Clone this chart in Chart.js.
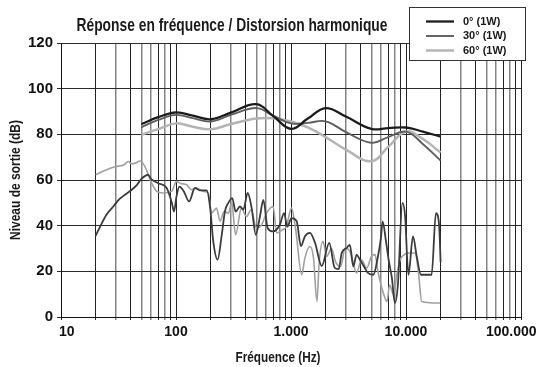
<!DOCTYPE html>
<html>
<head>
<meta charset="utf-8">
<script src="https://cdn.jsdelivr.net/npm/chart.js@4.4.1/dist/chart.umd.min.js"></script>
<style>
  html, body { margin: 0; padding: 0; background: #fff; }
  canvas { display: block; }
</style>
</head>
<body>
<canvas id="chart" width="546" height="367"></canvas>
<script>
// Frequency response at 1 W for three listening angles (dB)
const respFreq = [50, 70, 100, 140, 200, 300, 500, 700, 1000, 1400, 2000, 3000, 5000, 7000, 10000, 14000, 20000];
const resp0    = [84.5, 87.5, 89.6, 88.2, 86.6, 89.5, 93.2, 88.0, 82.4, 86.9, 91.5, 87.8, 82.4, 82.7, 83.0, 81.2, 79.0];
const resp30   = [83.1, 86.3, 88.5, 87.1, 85.6, 88.5, 91.5, 88.2, 84.8, 85.0, 85.7, 81.0, 76.3, 78.8, 81.2, 75.8, 68.5];
const resp60   = [79.8, 82.3, 84.8, 83.3, 82.2, 84.5, 86.9, 87.0, 85.6, 83.0, 78.8, 73.3, 68.2, 74.5, 81.2, 78.0, 72.0];

// Harmonic distortion traces (dB)
const distFreqA = [20, 22.6, 25, 28.5, 32, 36, 41, 46, 50, 54, 57, 61, 70, 83, 92, 96, 101, 107, 117, 130,
                   146, 161, 185, 198, 211, 230, 250, 267, 285, 308, 330, 360, 385, 420, 455, 494, 537, 575, 627, 700,
                   800, 870, 930, 1010, 1120, 1220, 1320, 1460, 1620, 1850, 2150, 2400, 2600, 2760, 3040, 3250, 3480, 3720, 3970, 4330,
                   4660, 5200, 5700, 6050, 6270, 6700, 7100, 7540, 8000, 8500, 9300, 9800, 10500, 11500, 12400, 13500, 16700, 18200, 19400, 20000];
const distA     = [35.5, 41, 45, 48.4, 51.5, 53.5, 55.6, 58, 60.5, 61.8, 62.3, 60.4, 58.6, 56.5, 50, 46.2, 52.8, 57.1, 55, 50.6,
                   56.5, 55.5, 55.5, 48, 33, 25.1, 36, 46.5, 49.9, 52.1, 46.2, 48.4, 47, 54.3, 47.7, 36, 44, 51.3, 38.9, 37.5,
                   40.4, 45.5, 39.6, 43.3, 42, 31, 35.3, 36.8, 32.4, 22.3, 32.5, 21.5, 21, 28, 30.2, 31.6, 22.1, 27.3, 25.1, 22,
                   19.3, 18.5, 26.5, 34.6, 41.8, 33.1, 24.3, 17.1, 6.1, 14, 50, 44.8, 18.5, 35.3, 26.5, 18.5, 18.5, 45.5, 40.4, 24];

const distFreqB = [20, 25, 30, 35, 38.5, 41, 45, 48.6, 53.7, 61.4, 68, 77.5, 91.6, 101, 110, 124, 137, 151, 173, 191,
                   204, 225, 242, 262, 285, 305, 330, 370, 410, 450, 500, 550, 613, 700, 750, 830, 910, 1010, 1100, 1240,
                   1320, 1460, 1570, 1680, 1760, 1900, 2040, 2250, 2450, 2700, 2960, 3300, 3720, 4100, 4560, 5000, 5380, 5700, 6350, 6830,
                   7200, 7800, 8300, 8900, 9500, 10500, 12000, 12800, 13700, 19800];
const distB     = [62.3, 64.5, 65.9, 66.6, 68.1, 67.1, 67.5, 68.3, 65.9, 58.6, 55, 54.3, 55, 59.3, 58.5, 57.9, 55.7, 56.5, 55, 54.3,
                   45.5, 47.7, 42, 46.2, 45.5, 50, 36, 47.7, 44, 47, 38.9, 40, 45.5, 48.4, 36.8, 38, 39.6, 47.7, 38, 18.5,
                   25.8, 30.9, 25.8, 6.8, 24.3, 33.1, 26.5, 30, 24, 22.1, 30.2, 28, 19.3, 25, 21.4, 26.5, 27.3, 20, 10.5, 6.8,
                   14, 9.8, 18, 25.1, 27, 28, 28, 20, 6.8, 6.1];

// Axis ticks and texts
const decadeValues = [10, 100, 1000, 10000, 100000];
const decadeLabels = ['10', '100', '1.000', '10.000', '100.000'];
const yTicks = [0, 20, 40, 60, 80, 100, 120];
const seriesNames = ['0° (1W)', '30° (1W)', '60° (1W)'];
const chartTitle = 'Réponse en fréquence / Distorsion harmonique';
const xTitle = 'Fréquence (Hz)';
const yTitle = 'Niveau de sortie (dB)';

const pts = (xs, ys) => xs.map((x, i) => ({ x: x, y: ys[i] }));

// every 1..9 multiple of each decade, for the log grid
const gridValues = [];
for (let d = 0; d < decadeValues.length - 1; d++) {
  for (let m = 1; m < 10; m++) gridValues.push(decadeValues[d] * m);
}
gridValues.push(decadeValues[decadeValues.length - 1]);

const darkMultipliers = [1, 2, 4, 7, 9];
function isDark(v) {
  const p = Math.pow(10, Math.floor(Math.log10(v) + 1e-9));
  return darkMultipliers.includes(Math.round(v / p));
}

const FONT = '"Liberation Sans", Arial, Helvetica, sans-serif';
const NB = '\u00a0';

const decor = {
  id: 'decor',
  afterDraw(chart) {
    const ctx = chart.ctx;
    const area = chart.chartArea;
    ctx.save();
    ctx.fillStyle = '#1a1a1a';
    ctx.textAlign = 'center';
    ctx.textBaseline = 'alphabetic';
    ctx.font = 'bold 18px ' + FONT;
    ctx.fillText(chartTitle, 232, 31, 311);
    ctx.font = 'bold 14px ' + FONT;
    ctx.fillText(xTitle, 278, 362, 85);
    ctx.translate(16, (area.top + area.bottom) / 2);
    ctx.rotate(-Math.PI / 2);
    ctx.textBaseline = 'middle';
    ctx.fillText(yTitle, 0, 0, 120);
    ctx.restore();

    // legend box
    const bx = 409, by = 7, bw = 117, bh = 54;
    ctx.save();
    ctx.fillStyle = '#fff';
    ctx.fillRect(bx, by, bw, bh);
    ctx.strokeStyle = '#333';
    ctx.lineWidth = 1;
    ctx.strokeRect(bx + 0.5, by + 0.5, bw - 1, bh - 1);
    ctx.font = 'bold 11px ' + FONT;
    ctx.textAlign = 'left';
    ctx.textBaseline = 'middle';
    const rows = [21.5, 36, 50.5];
    chart.data.datasets.slice(0, seriesNames.length).forEach((ds, i) => {
      ctx.strokeStyle = ds.borderColor;
      ctx.lineWidth = ds.borderWidth;
      ctx.beginPath();
      ctx.moveTo(426, rows[i]);
      ctx.lineTo(454, rows[i]);
      ctx.stroke();
      ctx.fillStyle = '#1a1a1a';
      ctx.fillText(ds.label, 463, rows[i]);
    });
    ctx.restore();
  }
};

new Chart(document.getElementById('chart'), {
  type: 'line',
  data: {
    datasets: [
      { label: seriesNames[0], data: pts(respFreq, resp0),  borderColor: '#1c1c1c', borderWidth: 2.3, tension: 0.4 },
      { label: seriesNames[1], data: pts(respFreq, resp30), borderColor: '#5e5e5e', borderWidth: 1.9, tension: 0.4 },
      { label: seriesNames[2], data: pts(respFreq, resp60), borderColor: '#b4b4b4', borderWidth: 2.5, tension: 0.4 },
      { label: 'THD A', data: pts(distFreqA, distA), borderColor: '#3c3c3c', borderWidth: 1.8, cubicInterpolationMode: 'monotone' },
      { label: 'THD B', data: pts(distFreqB, distB), borderColor: '#a0a0a0', borderWidth: 1.6, cubicInterpolationMode: 'monotone' }
    ]
  },
  options: {
    responsive: false,
    devicePixelRatio: 1,
    animation: false,
    events: [],
    elements: { point: { radius: 0 }, line: { fill: false } },
    layout: { padding: { top: 43, right: 25, left: 0, bottom: 0 } },
    plugins: { legend: { display: false }, title: { display: false }, tooltip: { enabled: false } },
    scales: {
      x: {
        type: 'logarithmic',
        min: decadeValues[0],
        max: decadeValues[decadeValues.length - 1],
        afterBuildTicks(scale) { scale.ticks = gridValues.map(v => ({ value: v })); },
        afterFit(scale) { scale.height = 50; scale.paddingLeft = 0; scale.paddingRight = 0; },
        grid: {
          color: c => (c.tick && isDark(c.tick.value)) ? '#222' : '#858585',
          lineWidth: c => (c.tick && isDark(c.tick.value)) ? 1 : 1.5,
          tickLength: 3
        },
        border: { color: '#111', width: 1 },
        ticks: {
          autoSkip: false,
          maxRotation: 0,
          padding: 4,
          color: '#111',
          font: { family: FONT, size: 14, weight: 'bold' },
          callback(value) {
            const k = decadeValues.indexOf(value);
            if (k < 0) return '';
            if (k === 0) return NB.repeat(3) + decadeLabels[k];
            if (k === decadeValues.length - 1) return decadeLabels[k] + NB.repeat(5);
            return decadeLabels[k];
          }
        }
      },
      y: {
        min: yTicks[0],
        max: yTicks[yTicks.length - 1],
        afterBuildTicks(scale) { scale.ticks = yTicks.map(v => ({ value: v })); },
        afterFit(scale) { scale.width = 61; },
        grid: { color: '#2a2a2a', lineWidth: 1, tickLength: 4 },
        border: { color: '#111', width: 1 },
        ticks: {
          padding: 4,
          color: '#111',
          font: { family: FONT, size: 15, weight: 'bold' }
        }
      }
    }
  },
  plugins: [decor]
});
</script>
</body>
</html>
